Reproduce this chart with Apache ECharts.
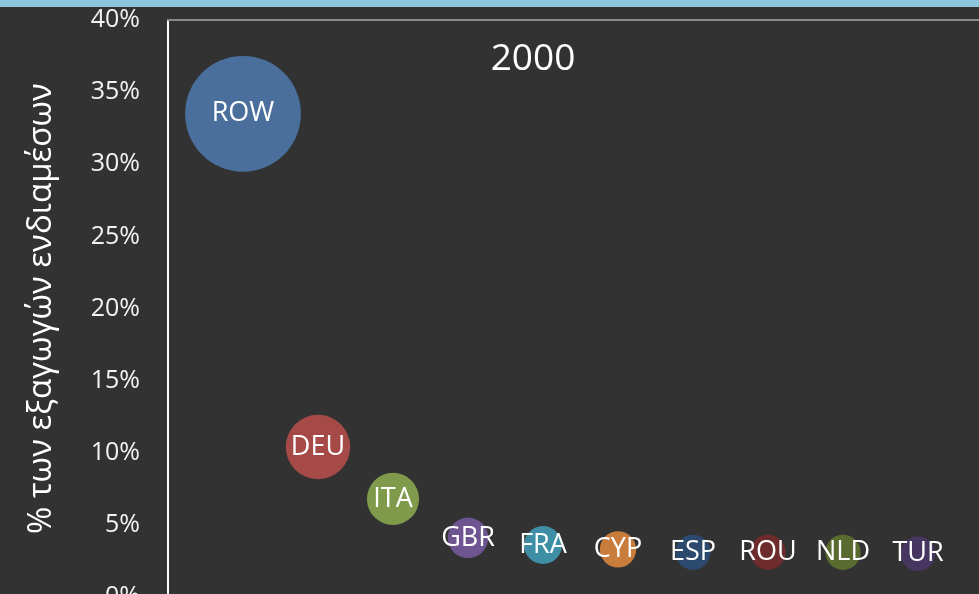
<!DOCTYPE html>
<html><head><meta charset="utf-8">
<script src="https://cdn.jsdelivr.net/npm/echarts@6/dist/echarts.min.js"></script>
<style>html,body{margin:0;padding:0;background:#333333;}#c{width:979px;height:594px;}</style>
</head><body><div id="c"></div>
<script>
const countries = ['ROW','DEU','ITA','GBR','FRA','CYP','ESP','ROU','NLD','TUR'];
const positions = [1,2,3,4,5,6,7,8,9,10];
const shares = [33.5, 10.4, 6.8, 4.1, 3.6, 3.3, 3.1, 3.1, 3.1, 3.0];
const palette = ['#4a6f9c','#a54a47','#7f9a4a','#6e5592','#3e8fa5','#c97d3c','#2c4a6e','#6e2b2b','#5a6b30','#473660'];
const yTicks = [0,5,10,15,20,25,30,35,40];
const titleText = '2000';
const yName = '% των εξαγωγών ενδιαμέσων';

const font = '"Open Sans", "Noto Sans", sans-serif';
const chart = echarts.init(document.getElementById('c'));
chart.setOption({
  backgroundColor: '#323232',
  animation: false,
  title: {text: titleText, left: 528, top: 36, textAlign: 'center',
    textStyle: {color: '#ffffff', fontSize: 37, fontWeight: 'normal', fontFamily: font}},
  graphic: [{type: 'rect', shape: {x: 0, y: 0, width: 979, height: 7}, style: {fill: '#8ec6dd'}, silent: true}],
  grid: {left: 168, top: 20, right: -14, bottom: -3, containLabel: false, outerBoundsMode: 'none'},
  xAxis: {type: 'value', min: 0, max: 11, position: 'top',
    axisLine: {show: true, onZero: false, lineStyle: {color: '#8a8a8a', width: 2}},
    axisTick: {show: false}, axisLabel: {show: false}, splitLine: {show: false}},
  yAxis: {type: 'value', min: yTicks[0], max: yTicks[yTicks.length-1], interval: 5,
    name: yName, nameLocation: 'middle', nameGap: 110, nameRotate: 90,
    nameTextStyle: {color: '#ffffff', fontSize: 33, fontFamily: font},
    axisLine: {show: true, onZero: false, lineStyle: {color: '#ffffff', width: 2}},
    axisTick: {show: false}, splitLine: {show: false},
    axisLabel: {formatter: '{value}%', color: '#f2f2f2', fontSize: 25, fontFamily: font, margin: 28}},
  series: [{
    type: 'scatter',
    data: countries.map((c, i) => ({name: c, value: [positions[i], shares[i]], itemStyle: {color: palette[i]}})),
    symbolSize: v => 20 * Math.sqrt(v[1]),
    itemStyle: {opacity: 1},
    label: {show: true, position: 'inside', formatter: p => p.name, color: '#ffffff', fontSize: 27, fontFamily: font}
  }]
});
</script></body></html>
